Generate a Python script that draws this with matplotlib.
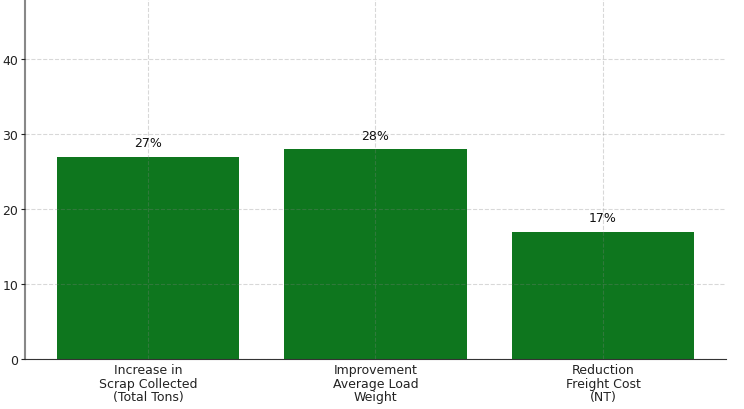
import matplotlib
matplotlib.use("Agg")
import matplotlib.pyplot as plt

categories = ["Increase in\nScrap Collected\n(Total Tons)",
              "Improvement\nAverage Load\nWeight",
              "Reduction\nFreight Cost\n(NT)"]
values = [27, 28, 17]

fig = plt.figure(figsize=(7.44, 4.10), dpi=100)
ax = fig.add_axes([25/744, 50/410, (726-25)/744, 360/410])
ax.bar(range(len(values)), values, width=0.8, color="#0e761e", zorder=1)
for i, v in enumerate(values):
    ax.text(i, v + 1, f"{v}%", ha="center", va="bottom", fontsize=9, color="#111111")
ax.set_xticks(range(len(values)))
ax.set_xticklabels(categories, fontsize=9, color="#222222", linespacing=1.05)
ax.set_ylim(0, 48)
ax.set_yticks([0, 10, 20, 30, 40])
ax.tick_params(axis="y", labelsize=9, colors="#222222", length=3, pad=2)
ax.tick_params(axis="x", length=0, pad=3)
ax.grid(True, linestyle="--", color="#808080", alpha=0.3, linewidth=0.8, zorder=2)
ax.set_axisbelow(False)
for s in ["top", "right"]:
    ax.spines[s].set_visible(False)
ax.spines["left"].set_color("#888888")
ax.spines["left"].set_linewidth(1.5)
ax.spines["bottom"].set_color("#333333")
fig.savefig("out.png", dpi=100)
